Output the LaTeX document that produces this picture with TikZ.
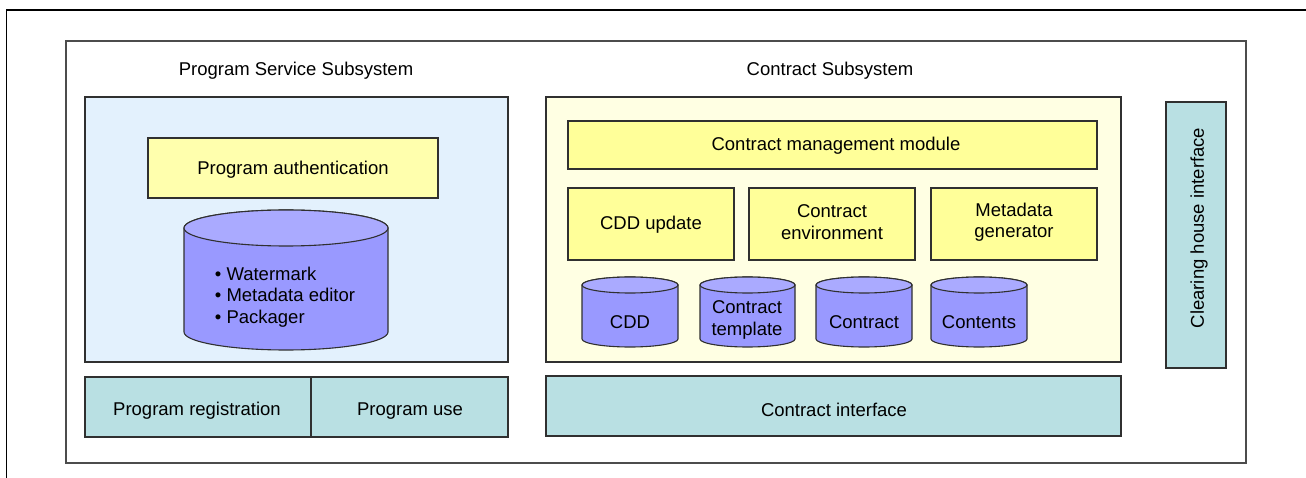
\documentclass[tikz,border=0pt]{standalone}
\usepackage{fontspec}
\setmainfont{Liberation Sans}
\definecolor{panelblue}{HTML}{E3F1FD}
\definecolor{panelyellow}{HTML}{FFFFE3}
\definecolor{modyellow}{HTML}{FFFF99}
\definecolor{ifteal}{HTML}{B9E0E3}
\definecolor{dbbody}{HTML}{9999FF}
\definecolor{dbtop}{HTML}{AAAAFF}
\definecolor{edge}{HTML}{303030}
% cylinder: #1 left x, #2 right x, #3 top-ellipse centre y, #4 bottom-ellipse centre y, #5 y radius
\newcommand\dbdrum[5]{%
  \pgfmathsetmacro\drx{(#2-#1)/2}%
  \pgfmathsetmacro\dcx{(#2+#1)/2}%
  \draw[dbpath, fill=dbbody] (#1,#3) -- (#1,#4)
     arc[start angle=180, end angle=0, x radius=\drx, y radius=#5]
     -- (#2,#3)
     arc[start angle=0, end angle=-180, x radius=\drx, y radius=#5] -- cycle;
  \draw[dbpath, fill=dbtop] (\dcx,#3) ellipse[x radius=\drx, y radius=#5];
}
\begin{document}
\begin{tikzpicture}[x=1pt, y=-1pt,
  every node/.style={font=\fontsize{18.5}{21.5}\selectfont, text=black, inner sep=0pt},
  txt/.style={yshift=-2pt},
  framepath/.style={draw=black!70, line width=1.3pt},
  boxpath/.style={draw=edge, line width=1.1pt},
  dbpath/.style={draw=edge, line width=1.1pt},
  module/.style={boxpath, fill=modyellow},
  iface/.style={boxpath, fill=ifteal},
  label/.style={txt, align=center}]
\useasboundingbox (0,0) rectangle (1306,478);
\fill[white] (0,0) rectangle (1306,478);

% outer frame (open at right and bottom)
\draw[draw=black, line width=1.2pt] (6.5,478) -- (6.5,10) -- (1306,10);
% system frame
\draw[framepath] (66,41) rectangle (1246,463);

% ---- Program Service Subsystem ----
\node[label] (psstitle) at (296,69) {Program Service Subsystem};
\draw[boxpath, fill=panelblue] (85,97) rectangle (508,362);
\draw[module, fill=modyellow!80!white] (148,138) rectangle (438,198);
\node[label] (pauth) at (293,168) {Program authentication};
\dbdrum{184}{388}{228}{332}{18}
\node[txt, align=left] (tools) at (285,295) {• Watermark\\• Metadata editor\\• Packager};
\draw[iface] (85,377) rectangle (311,437);
\draw[iface] (311,377) rectangle (508,437);
\node[label] (preg) at (197,409) {Program registration};
\node[label] (puse) at (410,409) {Program use};

% ---- Contract Subsystem ----
\node[label] (cstitle) at (830,69) {Contract Subsystem};
\draw[boxpath, fill=panelyellow] (546,97) rectangle (1121,362);
\draw[module] (568,121) rectangle (1097,169);
\node[label] (cmm) at (836,144) {Contract management module};
\draw[module] (568,188) rectangle (734,260);
\draw[module] (749,188) rectangle (915,260);
\draw[module] (931,188) rectangle (1097,260);
\node[label] (cddu) at (651,223) {CDD update};
\node[label] (cenv) at (832,220) {Contract\\environment};
\node[label] (mgen) at (1014,220) {Metadata\\generator};
\dbdrum{582}{678}{285}{339}{8}
\dbdrum{700}{795}{285}{339}{8}
\dbdrum{816}{912}{285}{339}{8}
\dbdrum{931}{1027}{285}{339}{8}
\node[label] (cdd) at (630,320) {CDD};
\node[label] (ctpl) at (747,318) {Contract\\template};
\node[label] (ctr) at (864,320) {Contract};
\node[label] (cnt) at (979,320) {Contents};
\draw[iface] (546,376) rectangle (1121,436);
\node[label] (cif) at (834,408) {Contract interface};

% ---- Clearing house ----
\draw[iface] (1166,102) rectangle (1226,368);
\node[rotate=90] (chi) at (1199,228) {Clearing house interface};
\end{tikzpicture}
\end{document}
